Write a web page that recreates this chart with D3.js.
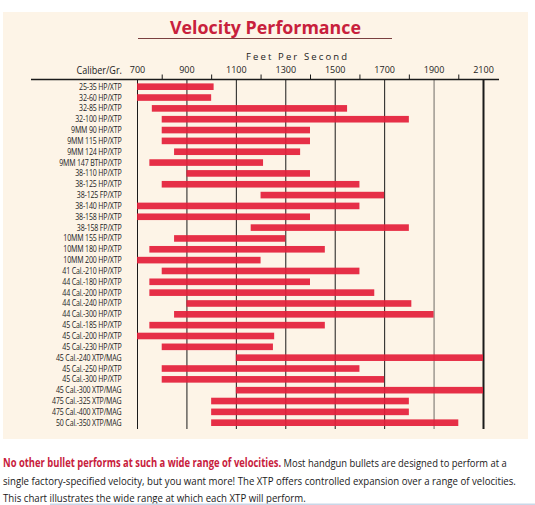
<!DOCTYPE html>
<html>
<head>
<meta charset="utf-8">
<script src="https://cdn.jsdelivr.net/npm/d3@7"></script>
<style>
  html, body { margin: 0; padding: 0; background: #ffffff; }
  svg { display: block; }
  text { font-family: "Open Sans", "Noto Sans", sans-serif; }
</style>
</head>
<body>
<svg id="chart" width="535" height="505"></svg>
<script>
const categories = [
  "25-35 HP/XTP", "32-60 HP/XTP", "32-85 HP/XTP", "32-100 HP/XTP",
  "9MM 90 HP/XTP", "9MM 115 HP/XTP", "9MM 124 HP/XTP", "9MM 147 BTHP/XTP",
  "38-110 HP/XTP", "38-125 HP/XTP", "38-125 FP/XTP", "38-140 HP/XTP",
  "38-158 HP/XTP", "38-158 FP/XTP", "10MM 155 HP/XTP", "10MM 180 HP/XTP",
  "10MM 200 HP/XTP", "41 Cal.-210 HP/XTP", "44 Cal.-180 HP/XTP", "44 Cal.-200 HP/XTP",
  "44 Cal.-240 HP/XTP", "44 Cal.-300 HP/XTP", "45 Cal.-185 HP/XTP", "45 Cal.-200 HP/XTP",
  "45 Cal.-230 HP/XTP", "45 Cal.-240 XTP/MAG", "45 Cal.-250 HP/XTP", "45 Cal.-300 HP/XTP",
  "45 Cal.-300 XTP/MAG", "475 Cal.-325 XTP/MAG", "475 Cal.-400 XTP/MAG", "50 Cal.-350 XTP/MAG"
];
const minVelocity = [
  700, 700, 760, 800, 800, 800, 850, 750,
  900, 800, 1200, 700, 700, 1160, 850, 750,
  700, 800, 750, 750, 900, 850, 750, 700,
  800, 1100, 800, 800, 1100, 1000, 1000, 1000
];
const maxVelocity = [
  1010, 1000, 1550, 1800, 1400, 1400, 1360, 1210,
  1400, 1600, 1700, 1600, 1400, 1800, 1300, 1460,
  1200, 1600, 1400, 1660, 1810, 1900, 1460, 1255,
  1250, 2100, 1600, 1700, 2100, 1800, 1800, 2000
];
const majorTicks = [700, 900, 1100, 1300, 1500, 1700, 1900, 2100];
const minorTicks = [800, 1000, 1200, 1400, 1600, 1800, 2000];

const title = "Velocity Performance";
const axisTitle = "Feet Per Second";
const rowHeader = "Caliber/Gr.";
const noteBold = "No other bullet performs at such a wide range of velocities.";
const noteLines = [
  " Most handgun bullets are designed to perform at a",
  "single factory-specified velocity, but you want more! The XTP offers controlled expansion over a range of velocities.",
  "This chart illustrates the wide range at which each XTP will perform."
];

const svg = d3.select("#chart");

// panel background
svg.append("rect").attr("x", 3).attr("y", 12).attr("width", 525).attr("height", 427)
  .attr("fill", "#fdf4e7");

const x = d3.scaleLinear().domain([700, 2100]).range([137, 483]);
const y = d3.scalePoint().domain(categories).range([86.7, 422.7]);
const barH = 6.6;
const axisY = 79.5;
const gridBottom = 429;

// title
svg.append("text").attr("x", 170).attr("y", 34)
  .attr("font-size", 17).attr("font-weight", 700).attr("fill", "#c8203c")
  .attr("textLength", 191).attr("lengthAdjust", "spacingAndGlyphs")
  .text(title);
svg.append("line").attr("x1", 138).attr("x2", 392).attr("y1", 38.5).attr("y2", 38.5)
  .attr("stroke", "#7a4040").attr("stroke-width", 1);

// axis title
svg.append("text").attr("x", 246).attr("y", 60)
  .attr("font-size", 9.5).attr("fill", "#222")
  .attr("textLength", 101).attr("lengthAdjust", "spacing")
  .text(axisTitle);

// row header
svg.append("text").attr("x", 76.5).attr("y", 74)
  .attr("font-size", 10).attr("fill", "#222")
  .attr("textLength", 45.5).attr("lengthAdjust", "spacingAndGlyphs")
  .text(rowHeader);

// gridlines
const grid = svg.append("g").attr("transform", `translate(0,${axisY})`)
  .call(d3.axisBottom(x).tickValues(majorTicks).tickSize(gridBottom - axisY).tickFormat(""));
grid.select(".domain").remove();
grid.selectAll(".tick line")
  .attr("stroke", d => d === 1900 ? "#6e6a66" : "#1a1a1a")
  .attr("stroke-width", d => d === 2100 ? 2 : 1);

// bars
svg.append("g").selectAll("rect").data(categories).join("rect")
  .attr("x", (d, i) => x(minVelocity[i]))
  .attr("y", d => y(d) - barH / 2)
  .attr("width", (d, i) => x(maxVelocity[i]) - x(minVelocity[i]))
  .attr("height", barH)
  .attr("fill", "#e41f3a")
  .attr("fill-opacity", 0.93);

// top axis with minor ticks
const minorAx = svg.append("g").attr("transform", `translate(0,${axisY})`)
  .call(d3.axisTop(x).tickValues(minorTicks).tickSize(5).tickFormat(""));
minorAx.select(".domain").remove();
minorAx.selectAll(".tick line").attr("stroke", "#1a1a1a");

const majorAx = svg.append("g").attr("transform", `translate(0,${axisY})`)
  .call(d3.axisTop(x).tickValues(majorTicks).tickSize(0).tickPadding(7).tickFormat(d3.format("d")));
majorAx.select(".domain").remove();
majorAx.selectAll(".tick text")
  .attr("font-family", "'Open Sans', 'Noto Sans', sans-serif")
  .attr("font-size", 9).attr("fill", "#222");

svg.append("line").attr("x1", 31).attr("x2", 499).attr("y1", axisY).attr("y2", axisY)
  .attr("stroke", "#1a1a1a").attr("stroke-width", 1.4);

// row labels
svg.append("g").selectAll("text").data(categories).join("text")
  .attr("transform", d => `translate(121.5,${y(d) + 3})scale(0.8,1)`)
  .attr("text-anchor", "end")
  .attr("font-size", 8.8).attr("fill", "#222")
  .attr("letter-spacing", -0.2)
  .text(d => d);

// note text: each line horizontally fitted to the reference width
function fitLine(yPos, target, build) {
  const g = svg.append("g");
  const t = g.append("text").attr("x", 0).attr("y", 0).attr("font-size", 11.5);
  build(t);
  const w = t.node().getComputedTextLength();
  g.attr("transform", `translate(3,${yPos})scale(${target / w},1)`);
}
fitLine(466.5, 504, t => {
  t.append("tspan").attr("font-weight", 700).attr("fill", "#c8203c").text(noteBold);
  t.append("tspan").attr("fill", "#1a1a1a").text(noteLines[0]);
});
fitLine(484.5, 513, t => t.attr("fill", "#1a1a1a").text(noteLines[1]));
fitLine(501.5, 303, t => t.attr("fill", "#1a1a1a").text(noteLines[2]));

svg.append("rect").attr("x", 50).attr("y", 503.5).attr("width", 485).attr("height", 1.5)
  .attr("fill", "#c9d7e8");
</script>
</body>
</html>
